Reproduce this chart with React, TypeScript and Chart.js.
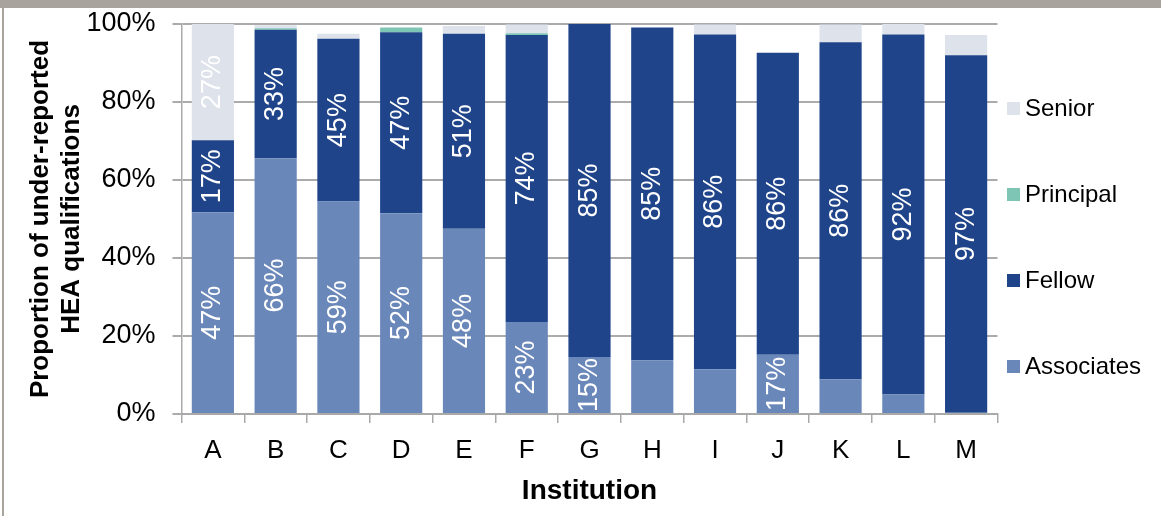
import React, { useEffect, useRef } from "react";
import { Chart, registerables } from "chart.js";

Chart.register(...registerables);

// ---- Data ----
const institutions = ["A", "B", "C", "D", "E", "F", "G", "H", "I", "J", "K", "L", "M"];

const associatesValues = [51.7, 65.6, 54.5, 51.5, 47.5, 23.6, 14.6, 13.8, 11.5, 15.2, 8.9, 5.0, 0.3];
const fellowValues = [18.5, 32.9, 41.7, 46.4, 50.0, 73.6, 85.4, 85.3, 85.8, 77.4, 86.4, 92.3, 91.7];
const principalValues = [0, 0.4, 0, 1.2, 0, 0.4, 0, 0, 0, 0, 0, 0, 0];
const seniorValues = [29.8, 0.8, 1.3, 0, 2.0, 2.3, 0, 0, 2.6, 0, 4.6, 2.7, 5.2];

const associatesLabels = ["47%", "66%", "59%", "52%", "48%", "23%", "15%", "", "", "17%", "", "", ""];
const fellowLabels = ["17%", "33%", "45%", "47%", "51%", "74%", "85%", "85%", "86%", "86%", "86%", "92%", "97%"];
const principalLabels = ["", "", "", "", "", "", "", "", "", "", "", "", ""];
const seniorLabels = ["27%", "", "", "", "", "", "", "", "", "", "", "", ""];

const yTickValues = [0, 20, 40, 60, 80, 100];

const seriesNames = ["Associates", "Fellow", "Principal", "Senior"];
const seriesColors = ["#6a87b9", "#1f4489", "#7fc5b5", "#dde2eb"];

const yTitle = ["Proportion of under-reported", "HEA qualifications"];
const xTitle = "Institution";

const FONT = "'Liberation Sans', Arial, sans-serif";

const labelPlugin = {
  id: "segmentLabels",
  afterDatasetsDraw(chart: any) {
    const ctx = chart.ctx;
    ctx.save();
    ctx.fillStyle = "#ffffff";
    ctx.font = `27px ${FONT}`;
    ctx.textAlign = "center";
    ctx.textBaseline = "middle";
    chart.data.datasets.forEach((ds: any, di: number) => {
      const meta = chart.getDatasetMeta(di);
      const labels: string[] = ds.segmentLabels || [];
      meta.data.forEach((bar: any, i: number) => {
        const txt = labels[i];
        if (!txt) return;
        const cx = bar.x;
        const cy = (bar.y + bar.base) / 2;
        ctx.save();
        ctx.translate(cx, cy);
        ctx.rotate(-Math.PI / 2);
        ctx.fillText(txt, 0, 0);
        ctx.restore();
      });
    });
    ctx.restore();
  },
};

export default function App() {
  const canvasRef = useRef<HTMLCanvasElement | null>(null);

  useEffect(() => {
    if (!canvasRef.current) return;
    const valueSets = [associatesValues, fellowValues, principalValues, seniorValues];
    const labelSets = [associatesLabels, fellowLabels, principalLabels, seniorLabels];
    const chart = new Chart(canvasRef.current, {
      type: "bar",
      data: {
        labels: institutions,
        datasets: seriesNames.map((name, k) => ({
          label: name,
          data: valueSets[k],
          backgroundColor: seriesColors[k],
          borderWidth: 0,
          categoryPercentage: 0.8,
          barPercentage: 0.84,
          segmentLabels: labelSets[k],
        })) as any,
      },
      options: {
        responsive: false,
        animation: false,
        devicePixelRatio: 1,
        layout: { padding: { left: 0, top: 24, right: 163.5, bottom: 0 } },
        plugins: {
          legend: { display: false },
          tooltip: { enabled: false },
        },
        scales: {
          x: {
            stacked: true,
            grid: {
              offset: true,
              drawOnChartArea: false,
              drawTicks: true,
              tickLength: 9,
              color: "#a9a9a9",
              lineWidth: 1.5,
            },
            border: { color: "#a9a9a9", width: 2 },
            ticks: { font: { family: FONT, size: 26 }, color: "#000", padding: 12 },
            title: {
              display: true,
              text: xTitle,
              font: { family: FONT, size: 28, weight: "bold" },
              color: "#000",
              padding: { top: 0, bottom: 8 },
            },
            afterFit: (scale: any) => {
              scale.height = 102;
              scale.paddingLeft = 0;
              scale.paddingRight = 0;
            },
          },
          y: {
            stacked: true,
            min: 0,
            max: 100,
            afterBuildTicks: (scale: any) => {
              scale.ticks = yTickValues.map((v) => ({ value: v }));
            },
            ticks: {
              font: { family: FONT, size: 27 },
              color: "#000",
              padding: 17,
              callback: (v: any) => `${v}%`,
            },
            grid: {
              color: "#ababab",
              lineWidth: 2,
              tickLength: 9,
            },
            border: { color: "#a9a9a9", width: 1.5 },
            title: {
              display: true,
              text: yTitle,
              font: { family: FONT, size: 26, weight: "bold", lineHeight: 1.2 },
              color: "#000",
              padding: { top: 25, bottom: 0 },
            },
            afterFit: (scale: any) => {
              scale.width = 181.5;
              scale.paddingTop = 0;
              scale.paddingBottom = 0;
            },
          },
        },
      },
      plugins: [labelPlugin],
    });
    return () => chart.destroy();
  }, []);

  const legendOrder = [3, 2, 1, 0];

  return (
    <div style={{ position: "absolute", left: 0, top: 0, width: 1161, height: 516, background: "#fff", overflow: "hidden" }}>
      <canvas ref={canvasRef} width={1161} height={516} style={{ position: "absolute", left: 0, top: 0 }} />
      <div style={{ position: "absolute", left: 0, top: 0, width: 1161, height: 8, background: "#a8a49d" }} />
      <div style={{ position: "absolute", left: 2, top: 0, width: 2, height: 516, background: "#a8a49d" }} />
      <div style={{ position: "absolute", left: 1007, top: 94, display: "flex", flexDirection: "column", gap: 58 }}>
        {legendOrder.map((k) => (
          <div key={k} style={{ display: "flex", alignItems: "center", height: 28 }}>
            <div style={{ width: 13, height: 13, background: seriesColors[k], marginRight: 5 }} />
            <span style={{ fontFamily: FONT, fontSize: 24, color: "#000", lineHeight: "28px" }}>{seriesNames[k]}</span>
          </div>
        ))}
      </div>
    </div>
  );
}
